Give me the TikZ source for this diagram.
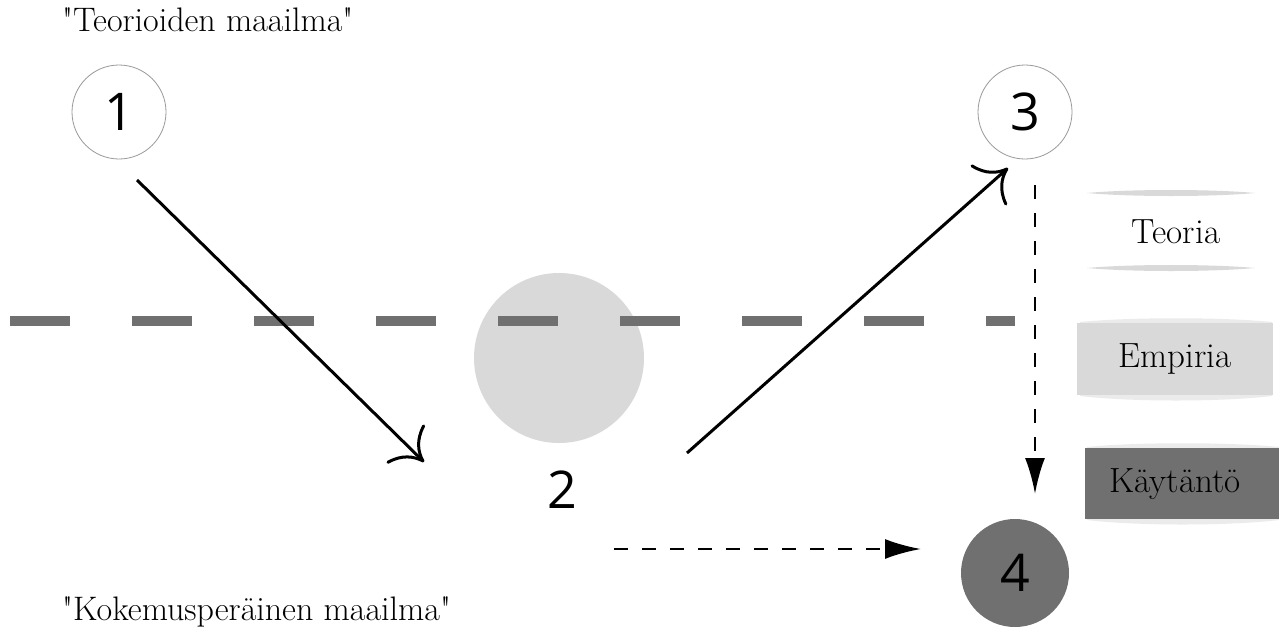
\documentclass[tikz,border=0pt]{standalone}
\usepackage{fontspec}
\setmainfont{Latin Modern Roman}[Ligatures=TeXOff]
\newfontfamily\digitfont{Open Sans}
\usetikzlibrary{arrows.meta}
\definecolor{dgray}{HTML}{707070}
\definecolor{lgray}{HTML}{D9D9D9}
\tikzset{
  numcirc/.style={circle, draw=gray!80, line width=0.8pt, minimum size=94pt, inner sep=0pt, font=\digitfont\fontsize{52}{52}\selectfont},
  numtext/.style={font=\digitfont\fontsize{52}{52}\selectfont, inner sep=0pt},
  serif/.style={font=\fontsize{34}{34}\selectfont, inner sep=0pt},
  legtext/.style={font=\fontsize{35}{35}\selectfont, inner sep=0pt},
  solidarrow/.style={line width=3pt, -{Computer Modern Rightarrow[length=27pt,width=54pt,line width=3pt]}},
  dasharrow/.style={line width=2.6pt, dash pattern=on 14pt off 14pt, -{Latex[length=36pt,width=20pt]}},
  shadowlens/.style={fill=black, opacity=0.15},
  shadowsoft/.style={fill=black, opacity=0.08},
}
\begin{document}
\begin{tikzpicture}[x=1pt,y=-1pt]
\useasboundingbox (0,0) rectangle (1279,643);
% titles
\node[serif, anchor=west] (tt) at (62,20) {"Teorioiden maailma"};
\node[serif, anchor=west] (tb) at (62,612) {"Kokemusperäinen maailma"};
% big light circle 2
\fill[lgray] (559,358) circle (85);
% gray dashed horizon line
\draw[dgray, line width=10pt, dash pattern=on 60pt off 62pt] (10,321) -- (1015,321);
% nodes
\node[numcirc] (n1) at (119,112) {1};
\node[numcirc] (n3) at (1025,112) {3};
\node[numtext] (n2) at (562,490) {2};
\node[circle, fill=dgray, minimum size=108pt, inner sep=0pt, font=\digitfont\fontsize{52}{52}\selectfont] (n4) at (1015,573) {4};
% anchor coordinates for connectors
\coordinate (a1s) at (137,180);
\coordinate (a1e) at (424,462);
\coordinate (a2s) at (687,453);
\coordinate (a2e) at (1008,168);
\coordinate (d1s) at (614,549);
\coordinate (d1e) at (921,549);
\coordinate (d2s) at (1035,185);
\coordinate (d2e) at (1035,494);
\draw[solidarrow] (a1s) -- (a1e);
\draw[solidarrow] (a2s) -- (a2e);
\draw[dasharrow] (d1s) -- (d1e);
\draw[dasharrow] (d2s) -- (d2e);
% legend
% Teoria
\fill[shadowlens] (1087,193) .. controls (1130,189) and (1212,189) .. (1255,193) .. controls (1212,197) and (1130,197) .. (1087,193);
\fill[shadowlens] (1087,268) .. controls (1130,264) and (1212,264) .. (1255,268) .. controls (1212,272) and (1130,272) .. (1087,268);
\node[legtext] (lt) at (1176,232) {Teoria};
% Empiria
\fill[shadowsoft] (1080,396) .. controls (1130,402) and (1222,402) .. (1272,396) -- (1272,394) -- (1080,394) -- cycle;
\fill[shadowsoft] (1080,322) .. controls (1130,317) and (1222,317) .. (1272,322) -- (1272,324) -- (1080,324) -- cycle;
\node[rectangle, fill=lgray, minimum width=196pt, minimum height=72pt, inner sep=0pt] (le) at (1175,359) {};
\node[legtext] at (le.center) {Empiria};
% Kaytanto
\fill[shadowsoft] (1087,520) .. controls (1135,526) and (1230,526) .. (1279,520) -- (1279,517) -- (1087,517) -- cycle;
\fill[shadowsoft] (1087,447) .. controls (1135,442) and (1230,442) .. (1279,447) -- (1279,450) -- (1087,450) -- cycle;
\node[rectangle, fill=dgray, minimum width=195pt, minimum height=71pt, inner sep=0pt] (lk) at (1182,483.5) {};
\node[legtext] at (1175,484) {Käytäntö};
\end{tikzpicture}
\end{document}
